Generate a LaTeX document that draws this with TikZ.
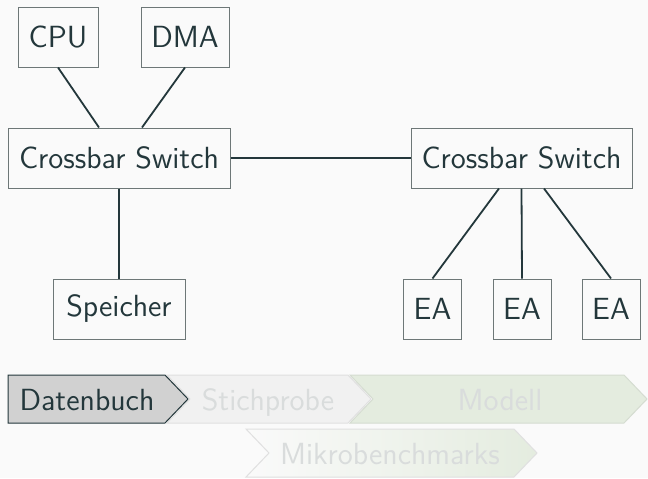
\documentclass[tikz,border=0pt]{standalone}
\usetikzlibrary{calc}
\definecolor{bg}{HTML}{FAFAFA}
\definecolor{ink}{HTML}{23373B}
\definecolor{boxline}{HTML}{6D7777}
\definecolor{chdark}{HTML}{D1D1D1}
\definecolor{chlight}{HTML}{F1F1F1}
\definecolor{chgreen}{HTML}{E4ECDF}
\definecolor{chtext}{HTML}{D9DCDC}
\begin{document}
\begin{tikzpicture}[x=0.5pt,y=-0.5pt,
  box/.style={draw=boxline,line width=0.5pt,text=ink,minimum height=30pt,inner sep=0pt,font=\sffamily\fontsize{15.3}{17}\selectfont},
  wire/.style={draw=ink,line width=0.9pt},
  chev/.style={line width=0.5pt},
  chlabel/.style={font=\sffamily\fontsize{15.3}{17}\selectfont,inner sep=0pt,anchor=base}]
\fill[bg] (0,0) rectangle (648,478);
\useasboundingbox (0,0) rectangle (648,478);
% top-level nodes
\node[box,minimum width=40pt] (cpu) at (58,37) {CPU};
\node[box,minimum width=44pt] (dma) at (185,37) {DMA};
\node[box,minimum width=111pt] (xl) at (119,158) {Crossbar Switch};
\node[box,minimum width=110.5pt] (xr) at (521.5,158) {Crossbar Switch};
\node[box,minimum width=66pt] (sp) at (119,309) {Speicher};
\node[box,minimum width=29pt] (ea1) at (432.5,309) {EA};
\node[box,minimum width=29pt] (ea2) at (522,309) {EA};
\node[box,minimum width=29pt] (ea3) at (611,309) {EA};
% connectors
\draw[wire] (cpu.south) -- ($(xl.north)+(-20,0)$);
\draw[wire] (dma.south) -- ($(xl.north)+(23,0)$);
\draw[wire] (xl.south) -- (sp.north);
\draw[wire] (xl.east) -- (xr.west);
\draw[wire] ($(xr.south)+(-22.5,0)$) -- (ea1.north);
\draw[wire] (xr.south) -- (ea2.north);
\draw[wire] ($(xr.south)+(22.5,0)$) -- (ea3.north);
% chevrons
\draw[chev,fill=chgreen,draw=chgreen!85!gray] (350,375) -- (624,375) -- (647,399) -- (624,423) -- (350,423) -- (373,399) -- cycle;
\draw[chev,fill=chlight,draw=chlight!85!gray] (167,375) -- (348,375) -- (371,399) -- (348,423) -- (167,423) -- (190,399) -- cycle;
\draw[chev,fill=chdark,draw=ink] (8,375) -- (165,375) -- (188,399) -- (165,423) -- (8,423) -- cycle;
\shade[left color=bg,right color=chgreen] (246,429) -- (514,429) -- (537,453) -- (514,477) -- (246,477) -- (269,453) -- cycle;
\draw[chev,draw=chlight!85!gray] (246,429) -- (514,429) -- (537,453) -- (514,477) -- (246,477) -- (269,453) -- cycle;
\node[chlabel,text=ink] (db) at (87,410) {Datenbuch};
\node[chlabel,text=chtext] (st) at (268,410) {Stichprobe};
\node[chlabel,text=chtext] (mo) at (500,410) {Modell};
\node[chlabel,text=chtext] (mb) at (390,464) {Mikrobenchmarks};
\end{tikzpicture}
\end{document}
